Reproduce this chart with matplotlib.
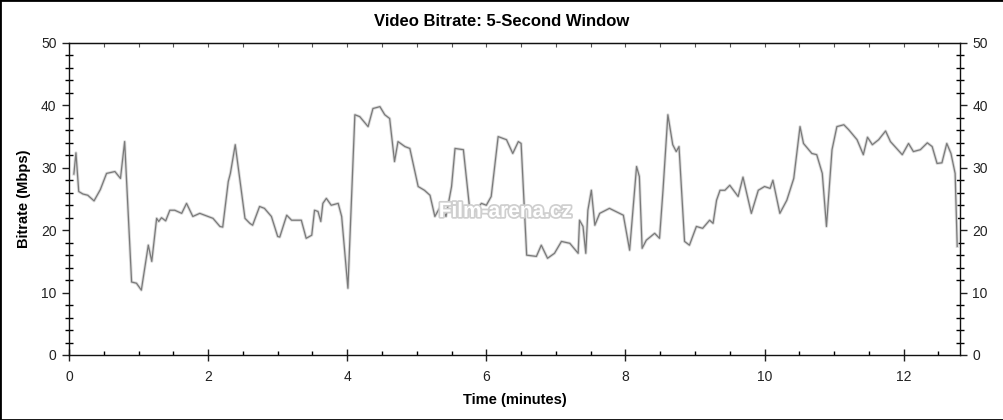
import matplotlib
matplotlib.use("Agg")
import matplotlib.pyplot as plt
from matplotlib.ticker import MultipleLocator
from matplotlib.patches import Rectangle
import matplotlib.patheffects as pe

plt.rcParams['font.family'] = ['Liberation Sans', 'DejaVu Sans']

time_min = [0.07, 0.10, 0.14, 0.20, 0.27, 0.36, 0.45, 0.54, 0.66, 0.74, 0.80, 0.90, 0.97, 1.04,
            1.14, 1.19, 1.26, 1.29, 1.33, 1.39, 1.45, 1.52, 1.62, 1.69, 1.78, 1.88, 2.07, 2.17,
            2.21, 2.29, 2.32, 2.39, 2.53, 2.60, 2.64, 2.74, 2.81, 2.91, 3.00, 3.03, 3.13, 3.20,
            3.34, 3.41, 3.49, 3.53, 3.58, 3.62, 3.65, 3.70, 3.77, 3.87, 3.92, 4.01, 4.11, 4.18,
            4.30, 4.37, 4.47, 4.54, 4.61, 4.68, 4.73, 4.83, 4.90, 5.02, 5.11, 5.19, 5.26, 5.35,
            5.42, 5.50, 5.55, 5.67, 5.76, 5.83, 5.93, 6.00, 6.07, 6.17, 6.29, 6.38, 6.46, 6.50,
            6.58, 6.72, 6.79, 6.88, 6.98, 7.08, 7.20, 7.32, 7.34, 7.39, 7.43, 7.46, 7.51, 7.56,
            7.63, 7.77, 7.97, 8.06, 8.16, 8.20, 8.24, 8.30, 8.42, 8.49, 8.54, 8.61, 8.68, 8.73,
            8.77, 8.85, 8.92, 9.02, 9.11, 9.21, 9.26, 9.31, 9.36, 9.43, 9.50, 9.62, 9.69, 9.81,
            9.91, 10.00, 10.08, 10.12, 10.22, 10.32, 10.42, 10.51, 10.56, 10.68, 10.75, 10.83,
            10.89, 10.97, 11.04, 11.14, 11.21, 11.33, 11.42, 11.48, 11.55, 11.64, 11.74, 11.81,
            11.98, 12.07, 12.14, 12.24, 12.34, 12.41, 12.48, 12.55, 12.62, 12.68, 12.74, 12.77]

bitrate = [29.0, 32.4, 26.2, 25.8, 25.6, 24.7, 26.5, 29.1, 29.4, 28.3, 34.2, 11.7, 11.5, 10.4,
           17.6, 15.0, 21.9, 21.4, 22.0, 21.5, 23.2, 23.2, 22.7, 24.3, 22.2, 22.7, 21.9, 20.6,
           20.5, 27.8, 29.1, 33.7, 21.9, 21.1, 20.8, 23.8, 23.5, 22.2, 19.0, 18.9, 22.4, 21.6,
           21.6, 18.7, 19.2, 23.2, 23.0, 21.4, 24.3, 25.1, 24.0, 24.3, 22.2, 10.7, 38.5, 38.2,
           36.6, 39.5, 39.8, 38.5, 37.9, 31.0, 34.2, 33.4, 33.1, 27.0, 26.4, 25.6, 22.2, 24.0,
           22.2, 27.0, 33.1, 32.9, 23.5, 23.0, 24.3, 24.0, 25.4, 35.0, 34.5, 32.3, 34.2, 33.9,
           16.0, 15.8, 17.6, 15.5, 16.3, 18.2, 17.9, 16.3, 21.6, 20.6, 16.3, 23.2, 26.4, 20.8,
           22.7, 23.5, 22.4, 16.8, 30.2, 28.6, 17.1, 18.4, 19.5, 18.7, 26.4, 38.5, 33.7, 32.6,
           33.4, 18.2, 17.6, 20.6, 20.3, 21.6, 21.1, 24.8, 26.4, 26.4, 27.2, 25.4, 28.5, 22.7,
           26.4, 27.0, 26.7, 28.0, 22.7, 24.8, 28.3, 36.6, 33.9, 32.3, 32.1, 29.1,
           20.6, 32.9, 36.6, 36.9, 36.1, 34.5, 32.1, 34.9, 33.7, 34.5, 35.9, 34.2,
           32.1, 33.9, 32.6, 32.9, 34.0, 33.4, 30.7, 30.8, 33.9, 32.3, 29.1, 17.4]

title = "Video Bitrate: 5-Second Window"
xlabel = "Time (minutes)"
ylabel = "Bitrate (Mbps)"

fig = plt.figure(figsize=(10.04, 4.20), dpi=100)
ax = fig.add_axes([69 / 1004, 1 - 355 / 420, (960 - 69) / 1004, (355 - 43) / 420])

ax.plot(time_min, bitrate, color='#dadada', lw=2.2, solid_joinstyle='round', zorder=2)
ax.plot(time_min, bitrate, color='#7a7a7a', lw=0.9, solid_joinstyle='round', zorder=3)

ax.set_xlim(0, 12.81)
ax.set_ylim(0, 50)

ax.xaxis.set_major_locator(MultipleLocator(2))
ax.xaxis.set_minor_locator(MultipleLocator(0.5))
ax.yaxis.set_major_locator(MultipleLocator(10))
ax.yaxis.set_minor_locator(MultipleLocator(2))

ax.tick_params(axis='x', which='major', direction='inout', length=8, width=1, top=False,
               labelsize=10, colors='#222222', pad=7)
ax.tick_params(axis='x', which='minor', direction='in', length=3, width=1, top=False)
ax.tick_params(axis='y', which='major', direction='out', length=5, width=1, left=True, right=True,
               labelleft=True, labelright=True, labelsize=10, colors='#222222', pad=4)
ax.tick_params(axis='y', which='minor', direction='inout', length=6, width=1, left=True, right=True)

sec = ax.secondary_xaxis('top')
sec.xaxis.set_major_locator(MultipleLocator(0.5))
sec.tick_params(direction='in', length=3, width=0.8, labeltop=False, colors='#555555')

for s in ax.spines.values():
    s.set_linewidth(1.0)
    s.set_color('#111111')

ax.set_xlabel(xlabel, fontsize=10.5, fontweight='bold', labelpad=6)
ax.set_ylabel(ylabel, fontsize=10.5, fontweight='bold', labelpad=7)
fig.text(0.5, 1 - 21 / 420, title, ha='center', va='center', fontsize=12, fontweight='bold')

ax.text(0.49, 0.46, "Film-arena.cz", transform=ax.transAxes, ha='center', va='center',
        fontsize=15, fontweight='bold', color='#ffffff', zorder=4,
        path_effects=[pe.withStroke(linewidth=2.5, foreground='#cfcfcf')])

fig.patches.append(Rectangle((0, 0), 1, 1, transform=fig.transFigure, fill=False,
                             edgecolor='black', lw=2, zorder=10))

fig.savefig("out.png", dpi=100)
